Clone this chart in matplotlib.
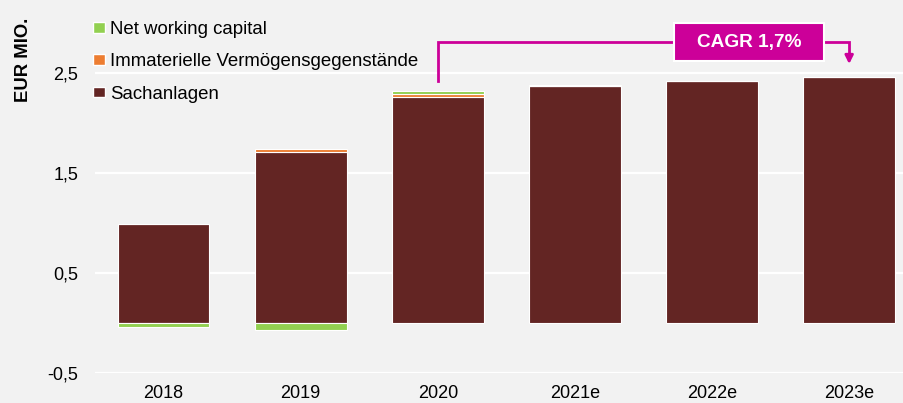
import matplotlib.pyplot as plt
from matplotlib.patches import Patch, Rectangle
import numpy as np

plt.rcParams['font.family'] = ['Liberation Sans', 'DejaVu Sans']

years = ['2018', '2019', '2020', '2021e', '2022e', '2023e']
sachanlagen = [0.99, 1.71, 2.26, 2.37, 2.42, 2.46]
immaterielle = [0.0, 0.03, 0.03, 0.0, 0.0, 0.0]
nwc = [-0.04, -0.07, 0.03, 0.01, 0.0, 0.0]
yticks = [-0.5, 0.5, 1.5, 2.5]
cagr_text = 'CAGR 1,7%'

c_red = '#632523'
c_orange = '#ED7D31'
c_green = '#92D050'
c_mag = '#CC0099'
bg = '#F2F2F2'

sach = np.array(sachanlagen)
imm = np.array(immaterielle)
nw = np.array(nwc)
x = np.arange(len(years))

fig = plt.figure(figsize=(9.04, 4.03), dpi=100, facecolor=bg)
ax = fig.add_axes([95 / 904, 30 / 403, 809 / 904, 373 / 403])
ax.set_facecolor(bg)

for y in yticks:
    ax.axhline(y, color='white', lw=1.6, zorder=0)

w = 0.67
ax.bar(x, sach, w, color=c_red, edgecolor='white', linewidth=0.8, zorder=2)
ax.bar(x, imm, w, bottom=sach, color=c_orange, edgecolor='white', linewidth=0.8, zorder=2)
pos_base = sach + imm
nw_bottom = np.where(nw >= 0, pos_base, 0.0)
ax.bar(x, nw, w, bottom=nw_bottom, color=c_green, edgecolor='white', linewidth=0.8, zorder=2)

ax.set_xlim(-0.5, 5.4)
ax.set_ylim(-0.5, 3.23)
ax.set_xticks(x)
ax.set_xticklabels(years, fontsize=13)
ax.set_yticks(yticks)
ax.set_yticklabels([f'{v:.1f}'.replace('.', ',') for v in yticks], fontsize=13)
ax.tick_params(axis='y', length=0, pad=12)
ax.tick_params(axis='x', length=0, pad=9)
for s in ax.spines.values():
    s.set_visible(False)

fig.text(24 / 904, 1 - 60 / 403, 'EUR MIO.', rotation=90, fontsize=13.3,
         fontweight='bold', ha='center', va='center')

# CAGR connector
totals = sach + np.clip(imm, 0, None) + np.clip(nw, 0, None)
y_top = 2.81
ax.plot([x[2], x[2], x[5], x[5]], [totals[2] + 0.1, y_top, y_top, totals[5] + 0.2],
        color=c_mag, lw=2, zorder=3, solid_joinstyle='miter')
ax.annotate('', xy=(x[5], totals[5] + 0.13), xytext=(x[5], totals[5] + 0.22),
            arrowprops=dict(arrowstyle='-|>', color=c_mag, lw=2, mutation_scale=12,
                            shrinkA=0, shrinkB=0), zorder=4)
box_cx, box_w, box_h = 4.27, 1.09, 0.38
ax.add_patch(Rectangle((box_cx - box_w / 2, y_top - box_h / 2), box_w, box_h,
                       facecolor=c_mag, edgecolor='white', lw=1.5, zorder=5))
ax.text(box_cx, y_top, cagr_text, color='white', fontsize=13.7,
        fontweight='bold', ha='center', va='center', zorder=6)

handles = [Patch(facecolor=c_green, edgecolor='white'),
           Patch(facecolor=c_orange, edgecolor='white'),
           Patch(facecolor=c_red, edgecolor='white')]
labels = ['Net working capital', 'Immaterielle Vermögensgegenstände', 'Sachanlagen']
fig.legend(handles, labels, loc='upper left', bbox_to_anchor=(93 / 904, 1 - 21 / 403),
           frameon=False, fontsize=13.4, handlelength=0.65, handleheight=0.5,
           handletextpad=0.25, labelspacing=0.82, borderpad=0, borderaxespad=0)

fig.savefig('out.png', dpi=100, facecolor=bg)
